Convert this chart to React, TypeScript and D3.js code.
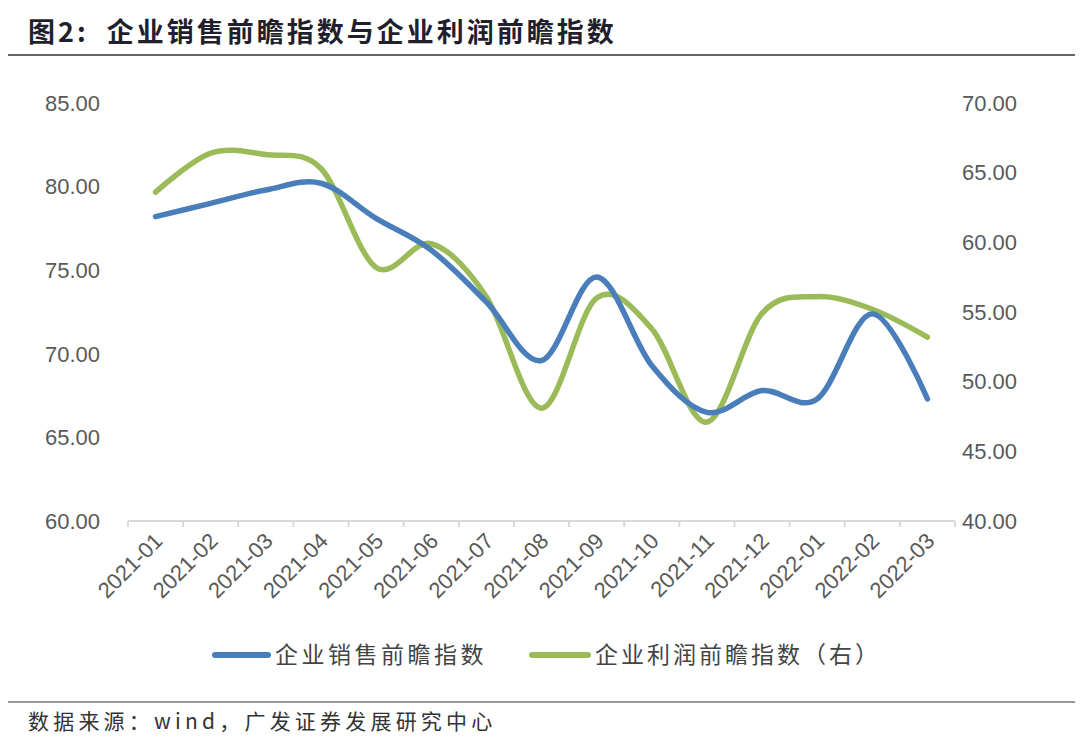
import React, { useEffect } from 'react';
import * as d3 from 'd3';

const months = [
  '2021-01', '2021-02', '2021-03', '2021-04', '2021-05', '2021-06', '2021-07', '2021-08',
  '2021-09', '2021-10', '2021-11', '2021-12', '2022-01', '2022-02', '2022-03',
];
// 企业销售前瞻指数 (left axis)
const salesIndex = [78.2, 79.0, 79.8, 80.2, 78.1, 76.2, 73.1, 69.6, 74.6, 69.3, 66.5, 67.8, 67.3, 72.4, 67.3];
// 企业利润前瞻指数 (right axis)
const profitIndex = [63.6, 66.4, 66.3, 65.3, 58.2, 59.9, 56.1, 48.1, 56.0, 53.8, 47.1, 54.9, 56.1, 55.2, 53.2];
const leftTicks = [60, 65, 70, 75, 80, 85];
const rightTicks = [40, 45, 50, 55, 60, 65, 70];

const W = 1080;
const H = 747;
const plot = { left: 128, right: 955, top: 103, bottom: 521 };
const BLUE = '#4a7ebb';
const GREEN = '#9bbb59';
const TICK_FONT = '"Liberation Sans", Arial, sans-serif';
const CJK_FONT = '"Noto Sans CJK SC", sans-serif';

const App: React.FC = () => {
  useEffect(() => {
    document.body.style.margin = '0';
  }, []);

  const x = d3.scaleBand<string>().domain(months).range([plot.left, plot.right]);
  const yL = d3.scaleLinear().domain([60, 85]).range([plot.bottom, plot.top]);
  const yR = d3.scaleLinear().domain([40, 70]).range([plot.bottom, plot.top]);
  const cx = (m: string) => (x(m) ?? 0) + x.bandwidth() / 2;

  const lineL = d3.line<number>()
    .x((_, i) => cx(months[i]))
    .y(d => yL(d))
    .curve(d3.curveCardinal.tension(0));
  const lineR = d3.line<number>()
    .x((_, i) => cx(months[i]))
    .y(d => yR(d))
    .curve(d3.curveCardinal.tension(0));

  const boundaries = months.map(m => x(m) ?? 0).concat([plot.right]);

  return (
    <svg width={W} height={H} style={{ display: 'block', background: '#fff' }}>
      {/* title */}
      <text x={28} y={42} fontFamily={CJK_FONT} fontWeight="bold" fontSize={27} letterSpacing={3} fill="#1f1f2e">
        <tspan>图2:</tspan>
        <tspan dx={18}>企业销售前瞻指数与企业利润前瞻指数</tspan>
      </text>
      <line x1={8} x2={1075} y1={55} y2={55} stroke="#333" strokeWidth={1.5} />

      {/* left axis labels */}
      {leftTicks.map(t => (
        <text key={'l' + t} x={100} y={yL(t)} dy="0.35em" textAnchor="end"
          fontFamily={TICK_FONT} fontSize={22} fill="#595959">{t.toFixed(2)}</text>
      ))}
      {/* right axis labels */}
      {rightTicks.map(t => (
        <text key={'r' + t} x={962} y={yR(t)} dy="0.35em" textAnchor="start"
          fontFamily={TICK_FONT} fontSize={22} fill="#595959">{t.toFixed(2)}</text>
      ))}

      {/* x axis */}
      <line x1={plot.left} x2={plot.right} y1={plot.bottom} y2={plot.bottom} stroke="#d9d9d9" strokeWidth={2} />
      {boundaries.map((b, i) => (
        <line key={'t' + i} x1={b} x2={b} y1={plot.bottom} y2={plot.bottom + 6} stroke="#d9d9d9" strokeWidth={2} />
      ))}
      {months.map(m => (
        <text key={m} transform={`translate(${cx(m) + 3},${plot.bottom + 16}) rotate(-45)`}
          textAnchor="end" dy="0.35em" fontFamily={TICK_FONT} fontSize={22} fill="#595959">{m}</text>
      ))}

      {/* series */}
      <path d={lineR(profitIndex) ?? ''} fill="none" stroke={GREEN} strokeWidth={5.5} strokeLinecap="round" />
      <path d={lineL(salesIndex) ?? ''} fill="none" stroke={BLUE} strokeWidth={5.5} strokeLinecap="round" />

      {/* legend */}
      <line x1={215} x2={268} y1={655} y2={655} stroke={BLUE} strokeWidth={6} strokeLinecap="round" />
      <text x={275} y={655} dy="0.35em" fontFamily={CJK_FONT} fontSize={23} letterSpacing={3.5} fill="#444">企业销售前瞻指数</text>
      <line x1={532} x2={588} y1={655} y2={655} stroke={GREEN} strokeWidth={6} strokeLinecap="round" />
      <text x={595} y={655} dy="0.35em" fontFamily={CJK_FONT} fontSize={23} letterSpacing={3} fill="#444">企业利润前瞻指数（右）</text>

      {/* footer */}
      <line x1={8} x2={1075} y1={702} y2={702} stroke="#777" strokeWidth={1.5} />
      <text x={28} y={722} dy="0.35em" fontFamily={CJK_FONT} fontSize={21} letterSpacing={4.2} fill="#333">数据来源：wind，广发证券发展研究中心</text>
    </svg>
  );
};

export default App;
